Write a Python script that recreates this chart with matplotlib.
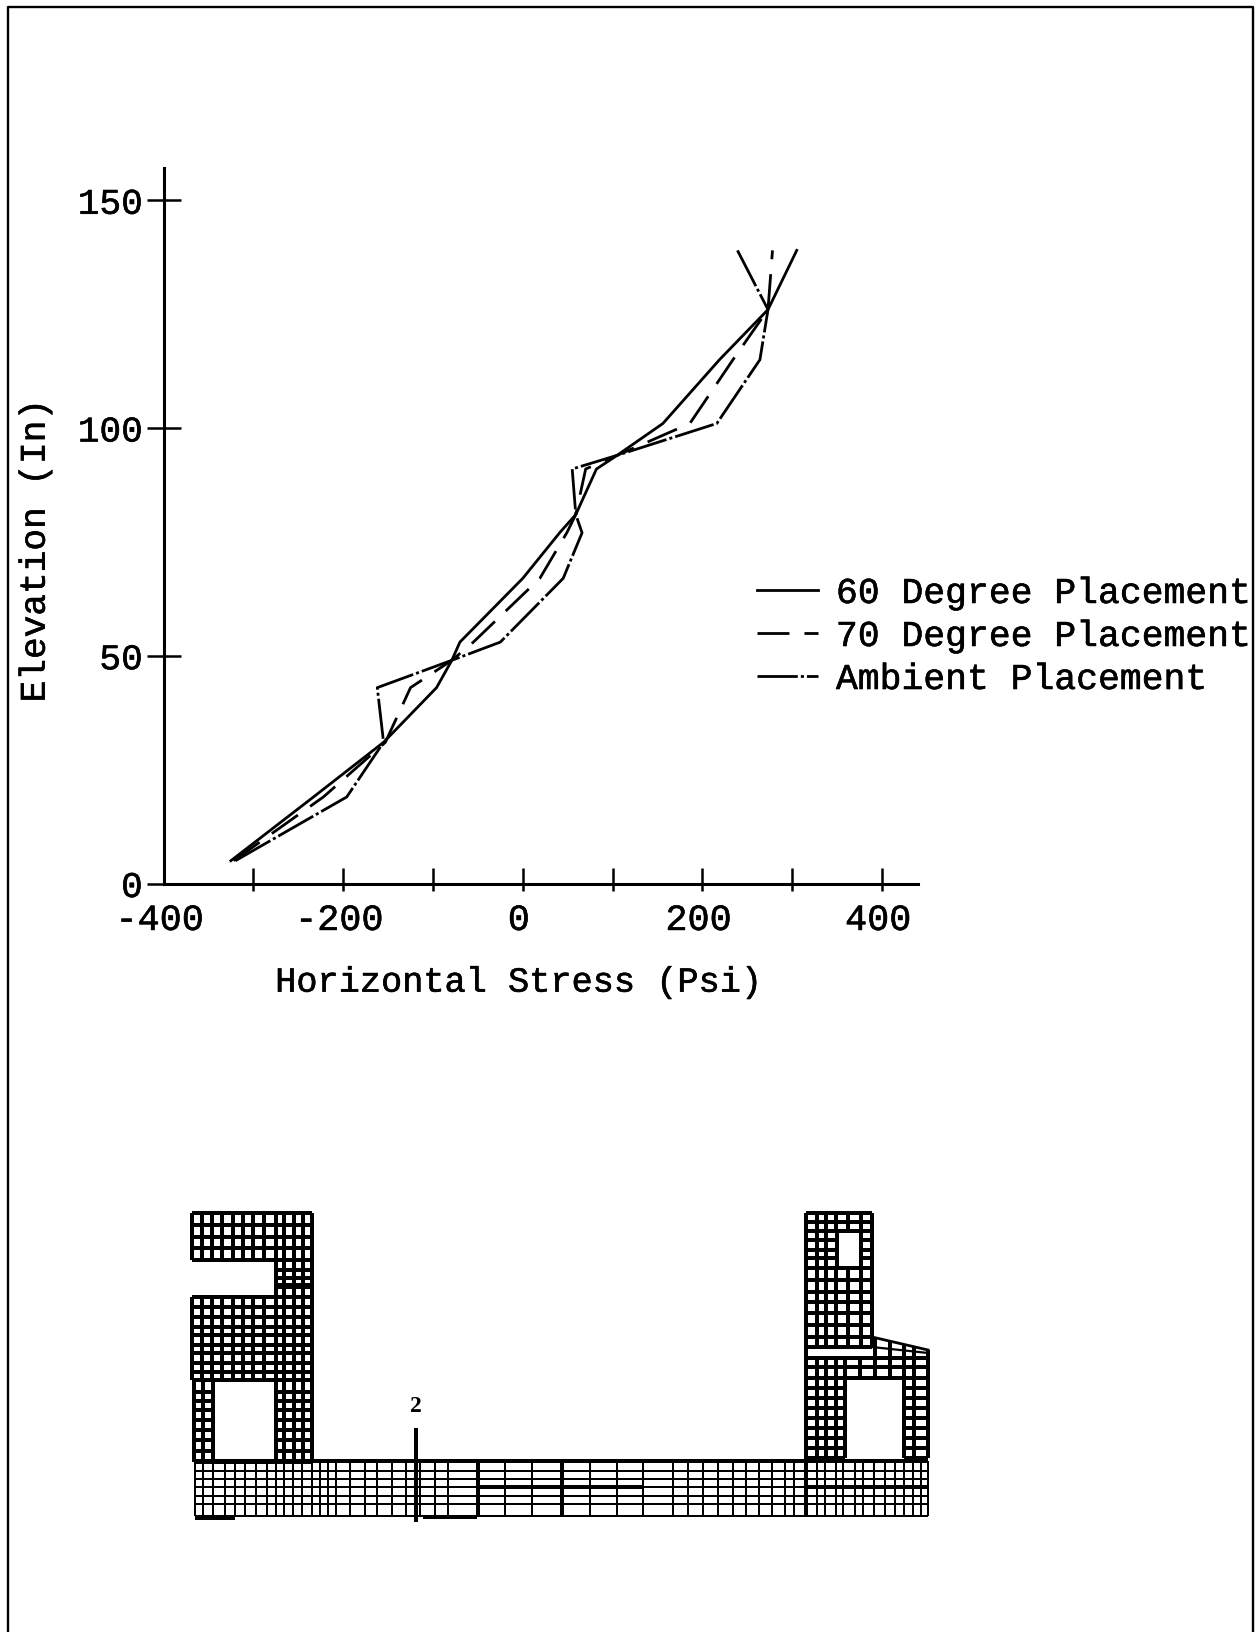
import numpy as np
import matplotlib
matplotlib.use('Agg')
import matplotlib.pyplot as plt
import matplotlib.patheffects as pe
from matplotlib.text import Text
from matplotlib.ticker import FixedLocator
from matplotlib.transforms import ScaledTranslation

W, H = 1259, 1632
plt.rcParams['font.family'] = ['Liberation Mono', 'DejaVu Sans Mono']

# ---- stress chart data ----
elevacao = [5, 19, 31, 43, 49, 53, 67, 77, 81, 91, 94, 101, 115, 126, 139]
grau_60 = [-325, -233, -155, -96, -79, -70, 0, 41, 59, 82, 105, 156, 219, 273, 305]
grau_70 = [-322, -222, -153, -125, -79, -55, 19, 49, 59, 70, 105, 186, 234, 273, 278]
ambiente = [-320, -196, -155, -162, -79, -25, 45, 66, 59, 55, 105, 216, 264, 273, 239]
nomes = ['60 Degree Placement', '70 Degree Placement', 'Ambient Placement']
x_ticks = [-400, -300, -200, -100, 0, 100, 200, 300, 400]
x_labels = ['-400', '', '-200', '', '0', '', '200', '', '400']
y_ticks = [0, 50, 100, 150]

# ---- mesh data (drawing pixels) ----
flange_x = [192, 202, 212, 222, 233, 243, 253, 264, 276, 284, 294, 303, 312]
flange_y = [1213, 1225, 1237, 1248, 1260]
web_x = [276, 284, 294, 303, 312]
web_y = [1260, 1270, 1278, 1287, 1297]
bloco_y = [1297, 1307, 1317, 1327, 1335, 1345, 1353, 1363, 1372, 1380]
vazio_esq_x = [194, 203, 213]
vazio_y = [1380, 1392, 1401, 1410, 1420, 1430, 1440, 1451, 1462]
laje_x = [195, 203, 213, 225, 235, 245, 256, 267, 276, 284, 293, 302, 312, 320, 328,
          336, 350, 365, 377, 392, 406, 420, 435, 448, 478, 505, 532, 562, 590, 617,
          643, 673, 688, 703, 718, 733, 746, 759, 772, 785, 794, 806, 817, 825, 836,
          843, 855, 863, 874, 885, 895, 904, 913, 921, 928]
laje_y = [1461, 1471, 1479, 1487, 1496, 1504, 1516]
torre_x = [806, 817, 826, 836, 848, 861, 872]
torre_topo_y = [1213, 1222, 1231]
janela_lados_x = [[806, 817, 826, 837], [861, 872]]
janela_y = [1231, 1240, 1250, 1258, 1268]
torre_y = [1268, 1280, 1292, 1302, 1313, 1325, 1337, 1347]
largo_x = [806, 817, 826, 836, 845, 860, 875, 890, 904, 914, 928]
largo_y = [1358, 1367, 1378]
rampa_x = [872, 928]
rampa_topo_y = [1337, 1350]
rampa_meio_y = [1347, 1353]
vazio_dir_x = [[806, 817, 826, 836, 845], [904, 914, 928]]
vazio_dir_y = [1378, 1388, 1398, 1408, 1418, 1428, 1438, 1448, 1458]
grossas_h = [(192, 312, 1317), (192, 312, 1363), (192, 312, 1380), (213, 276, 1462),
             (806, 872, 1268), (806, 928, 1367), (836, 904, 1378), (276, 312, 1285),
             (423, 477, 1517), (195, 235, 1518), (478, 643, 1487), (806, 928, 1487),
             (195, 928, 1461)]
grossas_v = [(233, 1213, 1260), (233, 1297, 1380), (276, 1260, 1462), (312, 1213, 1462),
             (806, 1213, 1515), (213, 1380, 1462), (845, 1378, 1458), (478, 1461, 1516),
             (562, 1461, 1516)]
corte_x = 416
corte_y = [1428, 1522]

fig = plt.figure(figsize=(W / 100, H / 100), dpi=100, facecolor='white')


def area_px(esq, dir, topo, base):
    return [esq / W, 1 - base / H, (dir - esq) / W, (base - topo) / H]


# ---- drawing layer: page frame and mesh ----
fundo = fig.add_axes([0, 0, 1, 1])
fundo.set_xlim(0, W)
fundo.set_ylim(H, 0)
fundo.axis('off')
fundo.plot([8, 8, 1253, 1253], [H, 7, 7, H], color='black', lw=1.7)


def malha(xs, ys, lw=1.5):
    fundo.vlines(xs, ys[0], ys[-1], color='black', lw=lw, antialiased=False)
    fundo.hlines(ys, xs[0], xs[-1], color='black', lw=lw, antialiased=False)


malha(flange_x, flange_y)
malha(web_x, web_y)
malha(flange_x, bloco_y)
malha(vazio_esq_x, vazio_y)
malha(web_x, vazio_y)
malha(laje_x, laje_y, lw=1.4)
malha(torre_x, torre_topo_y)
for lado in janela_lados_x:
    malha(lado, janela_y)
malha(torre_x, torre_y)
malha(largo_x, largo_y)
for lado in vazio_dir_x:
    malha(lado, vazio_dir_y)
fundo.plot(rampa_x, rampa_topo_y, color='black', lw=2.0)
fundo.plot(rampa_x, rampa_meio_y, color='black', lw=1.6)
for xv in largo_x[6:]:
    fundo.vlines(xv, np.interp(xv, rampa_x, rampa_topo_y), largo_y[-1], color='black', lw=1.5, antialiased=False)
fundo.hlines([g[2] for g in grossas_h], [g[0] for g in grossas_h], [g[1] for g in grossas_h],
             color='black', lw=2.8, antialiased=False)
fundo.vlines([g[0] for g in grossas_v], [g[1] for g in grossas_v], [g[2] for g in grossas_v],
             color='black', lw=2.6, antialiased=False)
fundo.vlines(corte_x, corte_y[0], corte_y[1], color='black', lw=2.6, antialiased=False)
fundo.text(corte_x, 1406, '2', family='Liberation Serif', fontweight='bold', fontsize=17,
           ha='center', va='center')

# ---- stress chart ----
ax = fig.add_axes(area_px(163.5, 918, 168.4, 883.5))
ax.patch.set_alpha(0)
estilos = [{'ls': '-'}, {'dashes': (11.5, 5.4)}, {'dashes': (14.5, 1.1, 1.1, 1.1)}]
for serie, nome, est in zip([grau_60, grau_70, ambiente], nomes, estilos):
    ax.plot(serie, elevacao, color='black', lw=2.0, dash_capstyle='butt', label=nome, **est)

ax.set_xlim(-400, 440)
ax.set_ylim(0, 157)
for lado in ['top', 'right']:
    ax.spines[lado].set_visible(False)
for lado in ['left', 'bottom']:
    ax.spines[lado].set_linewidth(2.2)

ax.set_xticks(x_ticks)
ax.set_xticklabels(x_labels)
ax.xaxis.set_minor_locator(FixedLocator(x_ticks[1:]))
ax.xaxis.remove_overlapping_locs = False
ax.tick_params(axis='x', which='major', direction='in', length=11.5, width=1.8, pad=14, labelsize=26.5)
ax.tick_params(axis='x', which='minor', direction='out', length=5, width=1.8)
ax.set_yticks(y_ticks)
ax.tick_params(axis='y', direction='inout', length=24, width=1.8, pad=3, labelsize=26)
desvio = ScaledTranslation(-4 / 100, 0, fig.dpi_scale_trans)
for rotulo in ax.get_xticklabels():
    rotulo.set_transform(rotulo.get_transform() + desvio)

ax.set_xlabel('Horizontal Stress (Psi)', fontsize=25.4, va='center')
ax.xaxis.set_label_coords(0.47, -0.138)
ax.set_ylabel('Elevation (In)', fontsize=26, va='center')
ax.yaxis.set_label_coords(-0.17, 0.465)

ax.legend(loc='upper left', bbox_to_anchor=(757 / W, 1 - 576 / H), bbox_transform=fig.transFigure,
          frameon=False, fontsize=26.2, handlelength=1.67, handletextpad=0.5, borderpad=0,
          borderaxespad=0, labelspacing=0.22)

# strokes in the scan are heavier than the font
for t in ax.findobj(Text):
    t.set_path_effects([pe.withStroke(linewidth=0.4, foreground='black')])

fig.savefig('out.png', dpi=100)
